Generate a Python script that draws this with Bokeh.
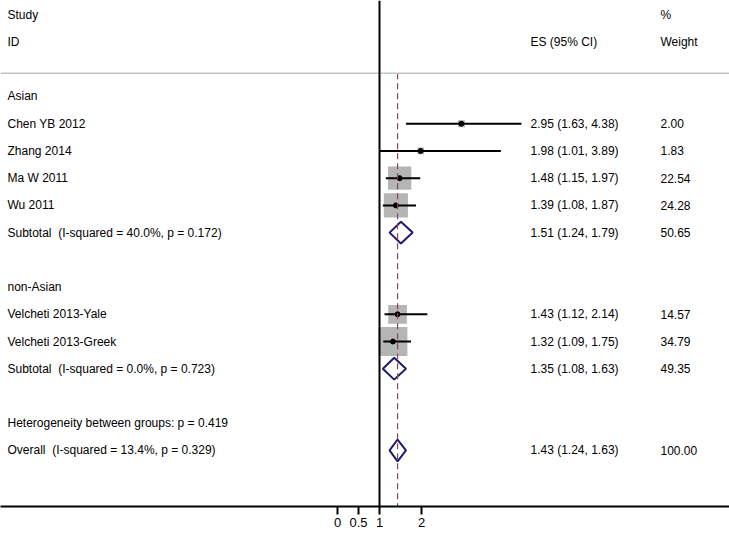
import math
from bokeh.plotting import figure
from bokeh.models import Range1d, Span, FixedTicker, ColumnDataSource
from bokeh.core.properties import value
from bokeh.embed import file_html
from bokeh.resources import INLINE

# ---------------- data ----------------
study_names = ["Chen YB 2012", "Zhang 2014", "Ma W 2011", "Wu 2011",
               "Velcheti 2013-Yale", "Velcheti 2013-Greek"]
study_rows = [1, 2, 3, 4, 8, 9]
study_es = [2.95, 1.98, 1.48, 1.39, 1.43, 1.32]
study_lo = [1.63, 1.01, 1.15, 1.08, 1.12, 1.09]
study_hi = [4.38, 3.89, 1.97, 1.87, 2.14, 1.75]
study_weight = [2.00, 1.83, 22.54, 24.28, 14.57, 34.79]

pooled_names = ["Subtotal  (I-squared = 40.0%, p = 0.172)",
                "Subtotal  (I-squared = 0.0%, p = 0.723)",
                "Overall  (I-squared = 13.4%, p = 0.329)"]
pooled_rows = [5, 10, 13]
pooled_es = [1.51, 1.35, 1.43]
pooled_lo = [1.24, 1.08, 1.24]
pooled_hi = [1.79, 1.63, 1.63]
pooled_weight = [50.65, 49.35, 100.00]

group_labels = ["Asian", "non-Asian", "Heterogeneity between groups: p = 0.419"]
group_rows = [0, 7, 12]

tick_values = [0, 0.5, 1, 2]
tick_labels = ["0", "0.5", "1", "2"]
null_value = 1
overall_es = 1.43

# ---------------- layout constants ----------------
X_LEFT, X_RIGHT = -8.0238, 9.3333
Y_TOP, Y_BOTTOM = -3.525, 15.06
COL_LABEL = -7.857
COL_ES = 4.595
COL_W = 7.69
SEP_ROW = -0.85
FONT = value("Liberation Sans")
FS = "12px"

p = figure(width=729, height=538, x_range=Range1d(X_LEFT, X_RIGHT),
           y_range=Range1d(Y_BOTTOM, Y_TOP), toolbar_location=None,
           output_backend="svg", y_axis_location=None,
           min_border_left=0, min_border_right=0, min_border_top=0,
           min_border_bottom=32)
p.outline_line_color = None
p.xgrid.visible = False
p.ygrid.visible = False

ax = p.xaxis[0]
ax.ticker = FixedTicker(ticks=tick_values)
ax.major_label_overrides = {v: l for v, l in zip(tick_values, tick_labels)}
ax.axis_line_width = 2
ax.axis_line_color = "black"
ax.major_tick_line_width = 2
ax.major_tick_line_color = "black"
ax.major_tick_out = 8
ax.major_tick_in = 0
ax.minor_tick_line_color = None
ax.major_label_standoff = 3
ax.major_label_text_font = "Liberation Sans"
ax.major_label_text_font_size = "13px"
ax.major_label_text_color = "black"

# separator line under header
p.add_layout(Span(location=SEP_ROW, dimension="width", line_color="#c4c4c4", line_width=1.5))
# null line
p.add_layout(Span(location=null_value, dimension="height", line_color="black", line_width=2))

# study CIs, squares, dots
src = ColumnDataSource(dict(
    y=study_rows, es=study_es, lo=study_lo, hi=study_hi,
    size=[4.9 * math.sqrt(w) for w in study_weight],
    name=study_names,
    est=[f"{e:.2f} ({l:.2f}, {h:.2f})" for e, l, h in zip(study_es, study_lo, study_hi)],
    wt=[f"{w:.2f}" for w in study_weight],
))
p.scatter(x="es", y="y", size="size", marker="square", source=src,
          fill_color="#b5b5b5", line_color=None)
p.segment(x0="lo", x1="hi", y0="y", y1="y", source=src, line_color="black", line_width=2)
p.scatter(x="es", y="y", size=5, marker="circle", source=src,
          fill_color="black", line_color="black")

# pooled diamonds
H = 0.40
xs = [[l, e, h, e] for e, l, h in zip(pooled_es, pooled_lo, pooled_hi)]
ys = [[r, r - H, r, r + H] for r in pooled_rows]
p.patches(xs=xs, ys=ys, fill_color=None, line_color="#1c1c6c", line_width=2)

# overall dashed line
p.segment(x0=[overall_es], x1=[overall_es], y0=[SEP_ROW], y1=[Y_BOTTOM],
          line_color="#94404f", line_width=1.2, line_dash="6 4")

def txt(x, y, t):
    p.text(x=x, y=y, text=t, text_font=FONT, text_font_size=FS,
           text_baseline="middle", text_align="left", text_color="black")

# headers
txt([COL_LABEL, COL_LABEL], [-3, -2], ["Study", "ID"])
txt([COL_ES], [-2], ["ES (95% CI)"])
txt([COL_W, COL_W], [-3, -2], ["%", "Weight"])

# group labels
txt([COL_LABEL] * len(group_rows), group_rows, group_labels)

# study labels
txt([COL_LABEL] * len(study_rows), study_rows, study_names)
txt([COL_ES] * len(study_rows), study_rows, src.data["est"])
txt([COL_W] * len(study_rows), study_rows, src.data["wt"])

# pooled labels
txt([COL_LABEL] * len(pooled_rows), pooled_rows, [n.replace("  ", "\u00a0 ") for n in pooled_names])
txt([COL_ES] * len(pooled_rows), pooled_rows,
    [f"{e:.2f} ({l:.2f}, {h:.2f})" for e, l, h in zip(pooled_es, pooled_lo, pooled_hi)])
txt([COL_W] * len(pooled_rows), pooled_rows, [f"{w:.2f}" for w in pooled_weight])

open("out.html", "w").write(file_html(p, INLINE))
